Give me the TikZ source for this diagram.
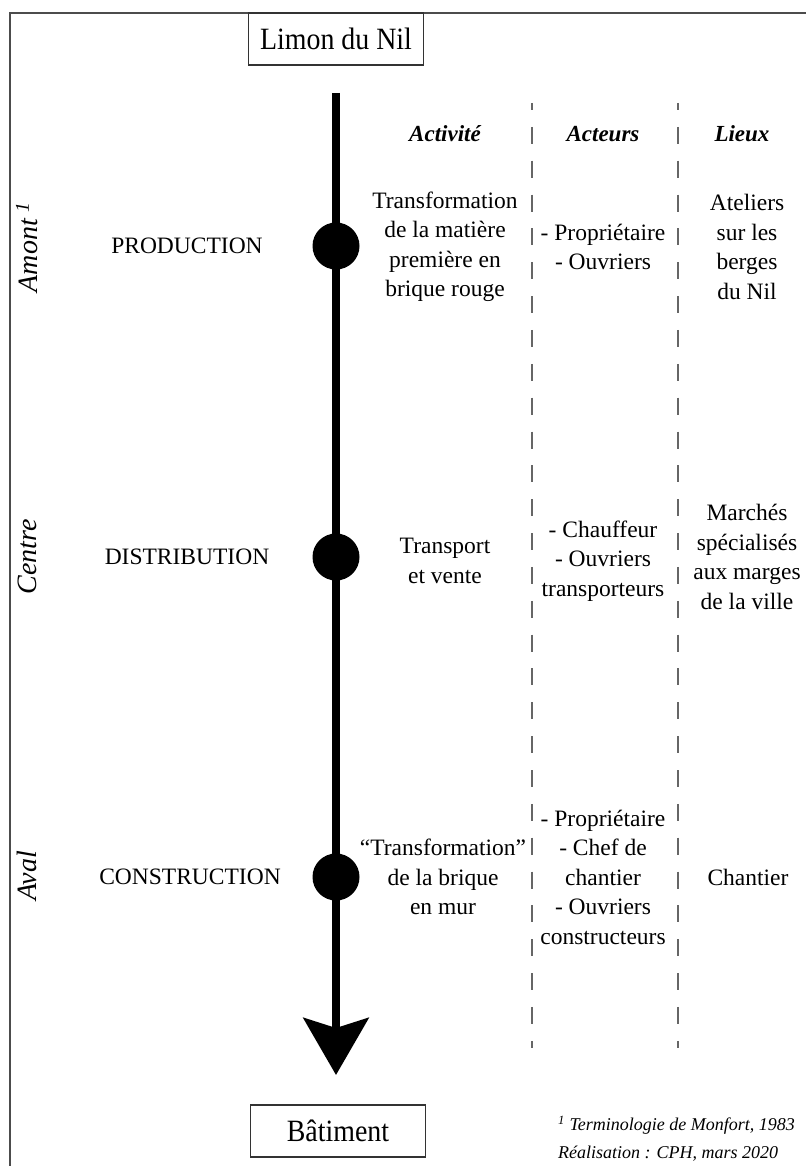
\documentclass[tikz,border=0pt]{standalone}
\usepackage{fontspec}
\setmainfont{Liberation Serif}
\newfontfamily\boxfont[FakeStretch=0.9]{Liberation Serif}
\usetikzlibrary{positioning,arrows.meta}

\begin{document}
\begin{tikzpicture}[
  x=1pt, y=-1pt,
  every node/.style={font=\fontsize{23.5}{29.5}\selectfont},
  endbox/.style={draw=black!80, line width=1.2pt, minimum width=175pt, minimum height=52pt, inner sep=0pt, font=\boxfont\fontsize{31}{34}\selectfont},
  cell/.style={align=center, inner sep=0pt},
  head/.style={inner sep=0pt, font=\fontsize{23}{28}\selectfont\bfseries\itshape},
  side/.style={rotate=90, inner sep=0pt, font=\fontsize{28}{32}\selectfont\itshape},
  dot/.style={circle, fill=black, minimum size=47pt, inner sep=0pt},
  flow/.style={line width=8.5pt, -{Stealth[length=57pt, width=65pt, inset=10pt]}},
  sep/.style={draw=black!60, line width=2pt, dash pattern=on 17pt off 16.85pt, dash phase=10pt},
  note/.style={anchor=west, inner sep=0pt, font=\fontsize{18}{22}\selectfont\itshape}
]
\useasboundingbox (0,0) rectangle (805,1166);
\draw[black!70, line width=1.8pt] (10,13) rectangle (830,1190);

% Ends of the chain
\node[endbox] (limon) at (336,39) {Limon du Nil};
\node[endbox] (bat) at (338,1131) {Bâtiment};

% Main arrow and stages
\coordinate (top) at (336,93);
\coordinate (tip) at (336,1075);
\draw[flow] (top) -- (tip);
\node[dot] (d1) at (336,246) {};
\node[dot] (d2) at (336,557) {};
\node[dot] (d3) at (336,877) {};

% Column separators
\coordinate (s1a) at (532,103);
\coordinate (s1b) at (532,1048);
\coordinate (s2a) at (678,103);
\coordinate (s2b) at (678,1048);
\draw[sep] (s1a) -- (s1b);
\draw[sep] (s2a) -- (s2b);

% Headers
\node[head] (hact) at (445,134) {Activité};
\node[head] (hacteurs) at (603,134) {Acteurs};
\node[head] (hlieux) at (742,134) {Lieux};

% Left side: segments
\node[side] (amont) at (27,247) {Amont \textsuperscript{1}};
\node[side] (centre) at (27,557) {Centre};
\node[side] (aval) at (27,876) {Aval};

% Row 1: production
\node[cell] (p0) at (187,246) {PRODUCTION};
\node[cell] (p1) at (445,247) {Transformation\\de la matière\\première en\\brique rouge};
\node[cell] (p2) at (603,247) {- Propriétaire\\- Ouvriers};
\node[cell] (p3) at (747,247) {Ateliers\\sur les\\berges\\du Nil};

% Row 2: distribution
\node[cell] (t0) at (187,557) {DISTRIBUTION};
\node[cell] (t1) at (445,561) {Transport\\et vente};
\node[cell] (t2) at (603,561) {- Chauffeur\\- Ouvriers\\transporteurs};
\node[cell] (t3) at (747,557) {Marchés\\spécialisés\\aux marges\\de la ville};

% Row 3: construction
\node[cell] (c0) at (190,877) {CONSTRUCTION};
\node[cell] (c1) at (443,877) {“Transformation”\\de la brique\\en mur};
\node[cell] (c2) at (603,877) {- Propriétaire\\- Chef de\\chantier\\- Ouvriers\\constructeurs};
\node[cell] (c3) at (748,877) {Chantier};

% Notes
\node[note] (n1) at (558,1125) {\textsuperscript{1} Terminologie de Monfort, 1983};
\node[note] (n2) at (558,1154) {Réalisation : CPH, mars 2020};
\end{tikzpicture}
\end{document}
